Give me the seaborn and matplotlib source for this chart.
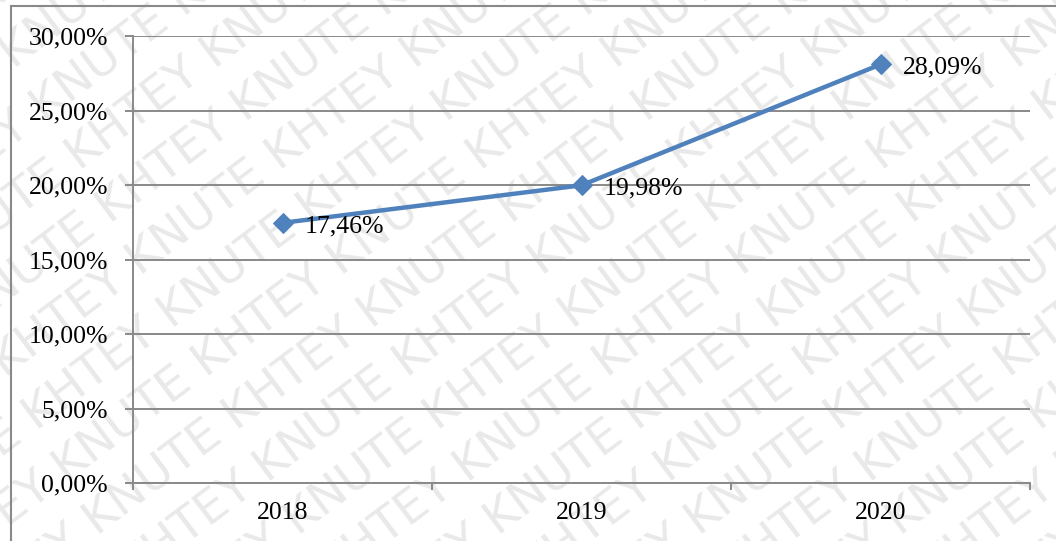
import matplotlib
matplotlib.use("Agg")
import matplotlib.pyplot as plt
from matplotlib.patches import Rectangle
from matplotlib.ticker import FuncFormatter, FixedLocator
import numpy as np
import pandas as pd
import seaborn as sns

years = ["2018", "2019", "2020"]
shares = [17.46, 19.98, 28.09]
y_ticks = [0, 5, 10, 15, 20, 25, 30]

LINE_BLUE = "#4F81BD"
GRID_GRAY = "#898989"
FS = 18.5

sns.set_theme(style="white")
plt.rcParams["font.family"] = ["Liberation Serif", "DejaVu Serif"]

df = pd.DataFrame({"pos": np.arange(len(years)), "share": shares})

fig = plt.figure(figsize=(10.56, 5.41), dpi=100)
ax = fig.add_axes([133 / 1056, 1 - 483 / 541, (1030 - 133) / 1056, (483 - 36) / 541])

# light diagonal watermark behind the chart
wm_words = "KNUTE KHTEY KNUTE KHTEY KNUTE KHTEY KNUTE KHTEY"
for i in range(-9, 11):
    start = wm_words if i % 2 == 0 else wm_words[6:]
    fig.text(0.5 + i * 0.095, 0.5, start, rotation=37,
             rotation_mode="anchor", ha="center", va="center",
             fontsize=34, color="#e9e9e9", family="DejaVu Sans",
             zorder=-1, transform=fig.transFigure)

ax.set_facecolor("none")
ax.patch.set_alpha(0)

sns.lineplot(data=df, x="pos", y="share", ax=ax, color=LINE_BLUE, lw=3.2,
             marker="D", markersize=10, markeredgecolor=LINE_BLUE,
             markerfacecolor=LINE_BLUE, zorder=5)

for x, v in zip(df["pos"], shares):
    ax.annotate(f"{v:.2f}%".replace(".", ","), (x, v), xytext=(16, -2.5),
                textcoords="offset points", ha="left", va="center",
                fontsize=FS, color="black", zorder=6)

ax.set_xlim(-0.5, len(years) - 0.5)
ax.set_ylim(0, 30)
ax.yaxis.set_major_locator(FixedLocator(y_ticks))
ax.yaxis.set_major_formatter(FuncFormatter(lambda v, p: f"{v:.2f}%".replace(".", ",")))
ax.set_xticks(range(len(years)))
ax.set_xticklabels(years)
ax.set_xticks(np.arange(-0.5, len(years), 1.0), minor=True)
ax.set_xlabel("")
ax.set_ylabel("")

ax.grid(axis="y", color=GRID_GRAY, lw=1.4)
ax.grid(axis="x", visible=False)
ax.set_axisbelow(True)

for s in ["top", "right"]:
    ax.spines[s].set_visible(False)
for s in ["left", "bottom"]:
    ax.spines[s].set_visible(True)
    ax.spines[s].set_color(GRID_GRAY)
    ax.spines[s].set_linewidth(1.4)

ax.tick_params(axis="y", which="major", direction="out", length=6, width=1.4,
               color=GRID_GRAY, labelsize=FS, labelcolor="black", pad=12, left=True)
ax.tick_params(axis="x", which="major", length=0, labelsize=FS,
               labelcolor="black", pad=14)
ax.tick_params(axis="x", which="minor", direction="out", length=5, width=1.4,
               color=GRID_GRAY, bottom=True)

# chart-area frame
fig.patches.append(Rectangle((11 / 1056, -0.05), 1.2, 1 - 6 / 541 + 0.05,
                             transform=fig.transFigure, fill=False,
                             edgecolor=GRID_GRAY, lw=1.5, zorder=1))

fig.savefig("out.png", dpi=100)
